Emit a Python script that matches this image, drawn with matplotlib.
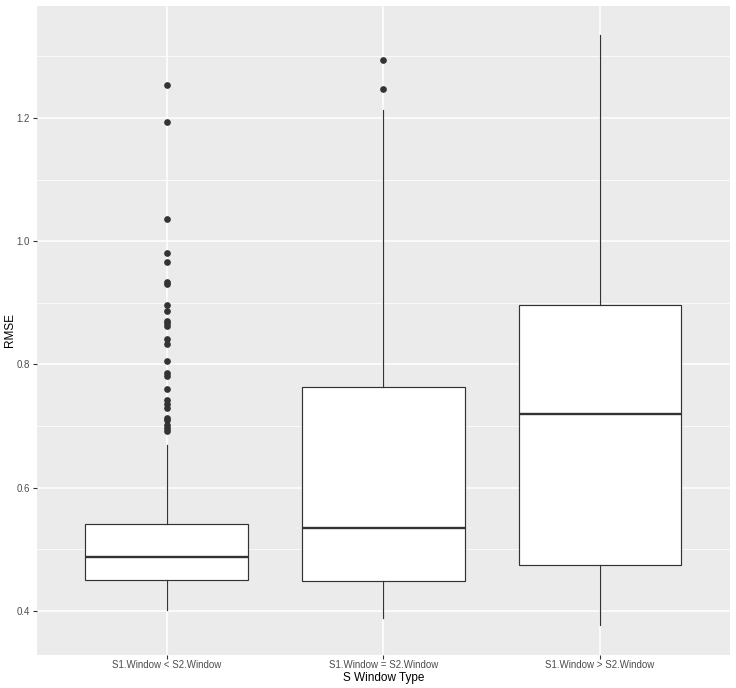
#!/usr/bin/env python3
"""Boxplot of RMSE by S window type, drawn from summary stats read off the figure."""

import matplotlib

matplotlib.use("Agg")

import matplotlib.pyplot as plt
from matplotlib.ticker import FixedLocator

CATEGORIES = ["S1.Window < S2.Window", "S1.Window = S2.Window", "S1.Window > S2.Window"]
WHISKER_LOW = [0.402, 0.389, 0.377]
Q1 = [0.451, 0.448, 0.475]
MEDIAN = [0.488, 0.534, 0.720]
Q3 = [0.542, 0.763, 0.896]
WHISKER_HIGH = [0.670, 1.212, 1.334]
OUTLIERS = [
    [1.254, 1.194, 1.036, 0.981, 0.967, 0.933, 0.931, 0.896, 0.887, 0.870,
     0.867, 0.863, 0.842, 0.833, 0.805, 0.786, 0.781, 0.760, 0.742, 0.736,
     0.730, 0.713, 0.710, 0.702, 0.697, 0.692],
    [1.294, 1.247],
    [],
]
Y_MAJOR = [0.4, 0.6, 0.8, 1.0, 1.2]
Y_MINOR = [0.5, 0.7, 0.9, 1.1, 1.3]

DARK = "#333333"


def main():
    fig = plt.figure(figsize=(7.36, 6.88), dpi=100)
    ax = fig.add_axes([0.0499, 0.048, 0.942, 0.9433])
    ax.set_facecolor("#EBEBEB")

    stats = []
    for i, label in enumerate(CATEGORIES):
        stats.append({
            "label": label,
            "whislo": WHISKER_LOW[i],
            "q1": Q1[i],
            "med": MEDIAN[i],
            "q3": Q3[i],
            "whishi": WHISKER_HIGH[i],
            "fliers": OUTLIERS[i],
        })

    positions = list(range(1, len(CATEGORIES) + 1))
    ax.bxp(
        stats,
        positions=positions,
        widths=0.75,
        showcaps=False,
        patch_artist=True,
        boxprops=dict(facecolor="white", edgecolor=DARK, linewidth=0.85),
        medianprops=dict(color=DARK, linewidth=1.7),
        whiskerprops=dict(color=DARK, linewidth=0.85),
        flierprops=dict(marker="o", markersize=3.8, markerfacecolor=DARK,
                        markeredgecolor=DARK, linestyle="none"),
        zorder=3,
    )

    ax.set_xlim(0.4, 3.6)
    ax.set_ylim(0.3288, 1.3815)
    ax.set_xticks(positions)
    ax.set_xticklabels(CATEGORIES)
    ax.yaxis.set_major_locator(FixedLocator(Y_MAJOR))
    ax.yaxis.set_minor_locator(FixedLocator(Y_MINOR))
    ax.set_yticklabels([f"{v:.1f}" for v in Y_MAJOR])

    ax.grid(True, which="major", color="white", linewidth=1.1, zorder=0)
    ax.grid(True, which="minor", axis="y", color="white", linewidth=0.55, zorder=0)
    ax.set_axisbelow(True)
    for spine in ax.spines.values():
        spine.set_visible(False)

    ax.tick_params(axis="both", which="major", length=3, width=0.8, color=DARK,
                   labelsize=7, labelcolor="#4D4D4D", pad=2)
    ax.tick_params(axis="x", which="major", pad=0.8)
    ax.tick_params(axis="y", which="minor", length=0)

    ax.set_xlabel("S Window Type", fontsize=8.5, color="black")
    ax.set_ylabel("RMSE", fontsize=8.5, color="black")
    ax.xaxis.set_label_coords(0.5, -0.036)
    ax.yaxis.set_label_coords(-0.0385, 0.5)
    ax.xaxis.label.set_va("center")
    ax.yaxis.label.set_va("center")

    fig.savefig("out.png", dpi=100, facecolor="white")
    plt.close(fig)


if __name__ == "__main__":
    plt.rcParams["font.family"] = ["Liberation Sans", "DejaVu Sans"]
    main()
